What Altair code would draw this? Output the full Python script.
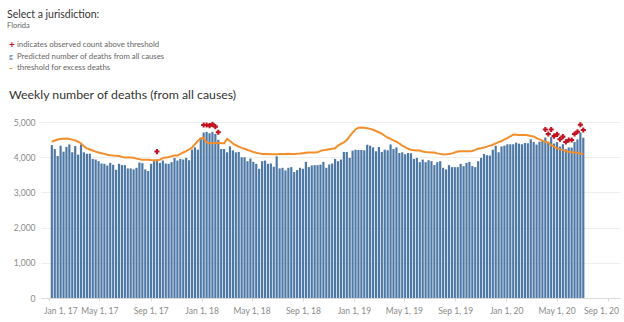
import altair as alt
import pandas as pd

# Weekly observed deaths (Florida), weeks ending Jan 7 2017 .. Jul 4 2020
deaths = [
    4345, 4230, 4035, 4327, 4158, 4290, 4364, 4140, 4317, 4074,
    4364, 4140, 4100, 4100, 3953, 3934, 3888, 3822, 3813, 3766,
    3841, 3785, 3644, 3813, 3776, 3776, 3682, 3682, 3654, 3700,
    3850, 3832, 3654, 3607, 3813, 3888, 3934, 3841, 3906, 3822,
    3813, 3860, 3981, 3906, 3953, 3934, 3981, 3915, 4215, 4280,
    4215, 4530, 4700, 4720, 4680, 4720, 4660, 4495, 4233, 4233,
    4140, 4308, 4196, 4140, 4150, 4000, 4000, 3888, 3963, 3870,
    3813, 3672, 3888, 3906, 3813, 3822, 3729, 4028, 3682, 3700,
    3626, 3700, 3719, 3579, 3635, 3700, 3672, 3870, 3719, 3766,
    3776, 3776, 3790, 3868, 3700, 3794, 3822, 3953, 3888, 3934,
    4150, 4150, 3981, 4187, 4215, 4205, 4205, 4196, 4355, 4327,
    4280, 4168, 4290, 4150, 4215, 4196, 4364, 4233, 4280, 4121,
    4140, 4084, 4121, 4112, 3953, 3981, 3860, 3934, 3860, 3915,
    3888, 3776, 3860, 3888, 3700, 3654, 3776, 3719, 3719, 3719,
    3813, 3748, 3841, 3869, 3748, 3719, 3888, 3981, 4093, 4056,
    4047, 4215, 4327, 4140, 4308, 4330, 4368, 4368, 4368, 4415,
    4386, 4368, 4405, 4396, 4510, 4434, 4360, 4443, 4462, 4560,
    4440, 4570, 4390, 4430, 4300, 4370, 4230, 4280, 4275, 4430,
    4505, 4705, 4555,
]

# Threshold for excess deaths (orange line)
threshold = [
    4440, 4475, 4505, 4520, 4528, 4530, 4520, 4500, 4480, 4440,
    4390, 4310, 4250, 4220, 4190, 4160, 4135, 4115, 4095, 4070,
    4058, 4050, 4045, 4035, 4010, 3995, 3990, 3990, 3985, 3960,
    3940, 3925, 3925, 3930, 3920, 3915, 3915, 3930, 3975, 3995,
    4000, 4030, 4050, 4050, 4090, 4135, 4175, 4220, 4270, 4370,
    4460, 4540, 4550, 4420, 4400, 4400, 4410, 4405, 4400, 4400,
    4520, 4460, 4390, 4340, 4300, 4265, 4240, 4205, 4180, 4150,
    4125, 4110, 4095, 4090, 4090, 4088, 4085, 4088, 4090, 4090,
    4092, 4100, 4092, 4090, 4098, 4105, 4115, 4125, 4135, 4135,
    4135, 4138, 4180, 4200, 4210, 4225, 4240, 4255, 4330, 4380,
    4420, 4490, 4600, 4700, 4790, 4840, 4845, 4840, 4825, 4805,
    4780, 4745, 4710, 4670, 4610, 4560, 4520, 4480, 4445, 4390,
    4330, 4285, 4240, 4215, 4195, 4190, 4188, 4160, 4148, 4138,
    4135, 4133, 4110, 4095, 4080, 4085, 4095, 4110, 4135, 4165,
    4170, 4170, 4172, 4172, 4178, 4210, 4240, 4255, 4275, 4300,
    4330, 4355, 4395, 4430, 4460, 4505, 4545, 4590, 4645, 4640,
    4630, 4630, 4630, 4625, 4605, 4590, 4545, 4505, 4470, 4440,
    4415, 4340, 4300, 4255, 4230, 4210, 4170, 4155, 4140, 4135,
    4130, 4100, 4090,
]

# "+" markers: week index and plotted height
plus_week = [36, 52, 53, 54, 55, 56, 57,
             169, 170, 171, 172, 173, 174, 175, 176, 177, 178, 179, 180, 181, 182]
plus_value = [4160, 4915, 4915, 4897, 4934, 4870, 4710,
              4790, 4660, 4790, 4600, 4650, 4510, 4585, 4435, 4490, 4490, 4660, 4725, 4925, 4775]

tick_dates = [(2017, 1), (2017, 5), (2017, 9), (2018, 1), (2018, 5), (2018, 9),
              (2019, 1), (2019, 5), (2019, 9), (2020, 1), (2020, 5), (2020, 9)]
y_ticks = [0, 1000, 2000, 3000, 4000, 5000]

FONT = "Lato"
BLUE = "#4e79a7"
ORANGE = "#f28e2b"
RED = "#c1121f"

dates = pd.date_range("2017-01-07", periods=len(deaths), freq="7D")
df = pd.DataFrame({
    "date": dates.strftime("%Y-%m-%d"),
    "deaths": deaths,
    "threshold": threshold,
})
plus_df = pd.DataFrame({
    "date": dates[plus_week].strftime("%Y-%m-%d"),
    "y": plus_value,
})

x_scale = alt.Scale(
    type="utc",
    domain=[alt.DateTime(year=2016, month=12, date=24, utc=True),
            alt.DateTime(year=2020, month=9, date=18, utc=True)],
)
y_scale = alt.Scale(domain=[0, 5200], nice=False)

x_axis = alt.Axis(
    title=None,
    values=[alt.DateTime(year=y, month=m, date=1, utc=True) for y, m in tick_dates],
    format="%b %-d, %y",
    grid=False,
    domainColor="#d9d9d9",
    tickColor="#d9d9d9",
    tickSize=3,
    labelPadding=5,
    labelColor="#8a8a8a",
    labelFont=FONT,
    labelFontSize=8.5,
    labelOverlap=False,
    labelOffset={
        "condition": [
            {"test": "year(datum.value) == 2017 && month(datum.value) == 0", "value": 11},
            {"test": "year(datum.value) == 2020 && month(datum.value) == 8", "value": -7},
        ],
        "value": 0,
    },
)
y_axis = alt.Axis(
    title=None,
    values=y_ticks,
    tickCount=6,
    format=",d",
    grid=True,
    gridColor="#eeeeee",
    domain=False,
    ticks=False,
    labelOverlap=False,
    labelPadding=6,
    labelColor="#8a8a8a",
    labelFont=FONT,
    labelFontSize=8.5,
)

X = alt.X("date:T", scale=x_scale, axis=x_axis)

bars = alt.Chart(df).mark_bar(width=2.2, color=BLUE).encode(
    x=X,
    y=alt.Y("deaths:Q", scale=y_scale, axis=y_axis),
)
line = alt.Chart(df).mark_line(color=ORANGE, strokeWidth=2).encode(
    x=X,
    y=alt.Y("threshold:Q", scale=y_scale, axis=y_axis),
)
plus = alt.Chart(plus_df).mark_point(shape="cross", filled=True, size=26, color=RED, opacity=1).encode(
    x=X,
    y=alt.Y("y:Q", scale=y_scale, axis=y_axis),
)


def label(text, x, y, size, color, weight="normal"):
    return alt.Chart(pd.DataFrame({"t": [text]})).mark_text(
        align="left", baseline="middle", font=FONT, fontSize=size, color=color, fontWeight=weight
    ).encode(text="t:N", x=alt.value(x), y=alt.value(y))


header = [
    label("Select a jurisdiction:", -34, -100, 10.5, "#333333"),
    label("Florida", -34, -89, 7.5, "#666666"),
    label("+", -32, -70, 10, RED, "bold"),
    label("indicates observed count above threshold", -24, -70, 7.8, "#666666"),
    label("g", -32, -58, 7.5, BLUE),
    label("Predicted number of deaths from all causes", -24, -58, 7.8, "#666666"),
    label("-", -32, -47, 10, ORANGE, "bold"),
    label("threshold for excess deaths", -24, -47, 7.8, "#666666"),
    label("Weekly number of deaths (from all causes)", -32, -20, 12.3, "#333333"),
]

chart = alt.layer(bars, line, plus, *header).resolve_axis(y="shared").properties(
    width=579,
    height=183,
    padding={"left": 41, "top": 115, "right": 4, "bottom": 24},
    autosize=alt.AutoSizeParams(type="none"),
    background="white",
).configure_view(stroke=None)

chart.save("out.html", embed_options={"renderer": "svg", "actions": False})
